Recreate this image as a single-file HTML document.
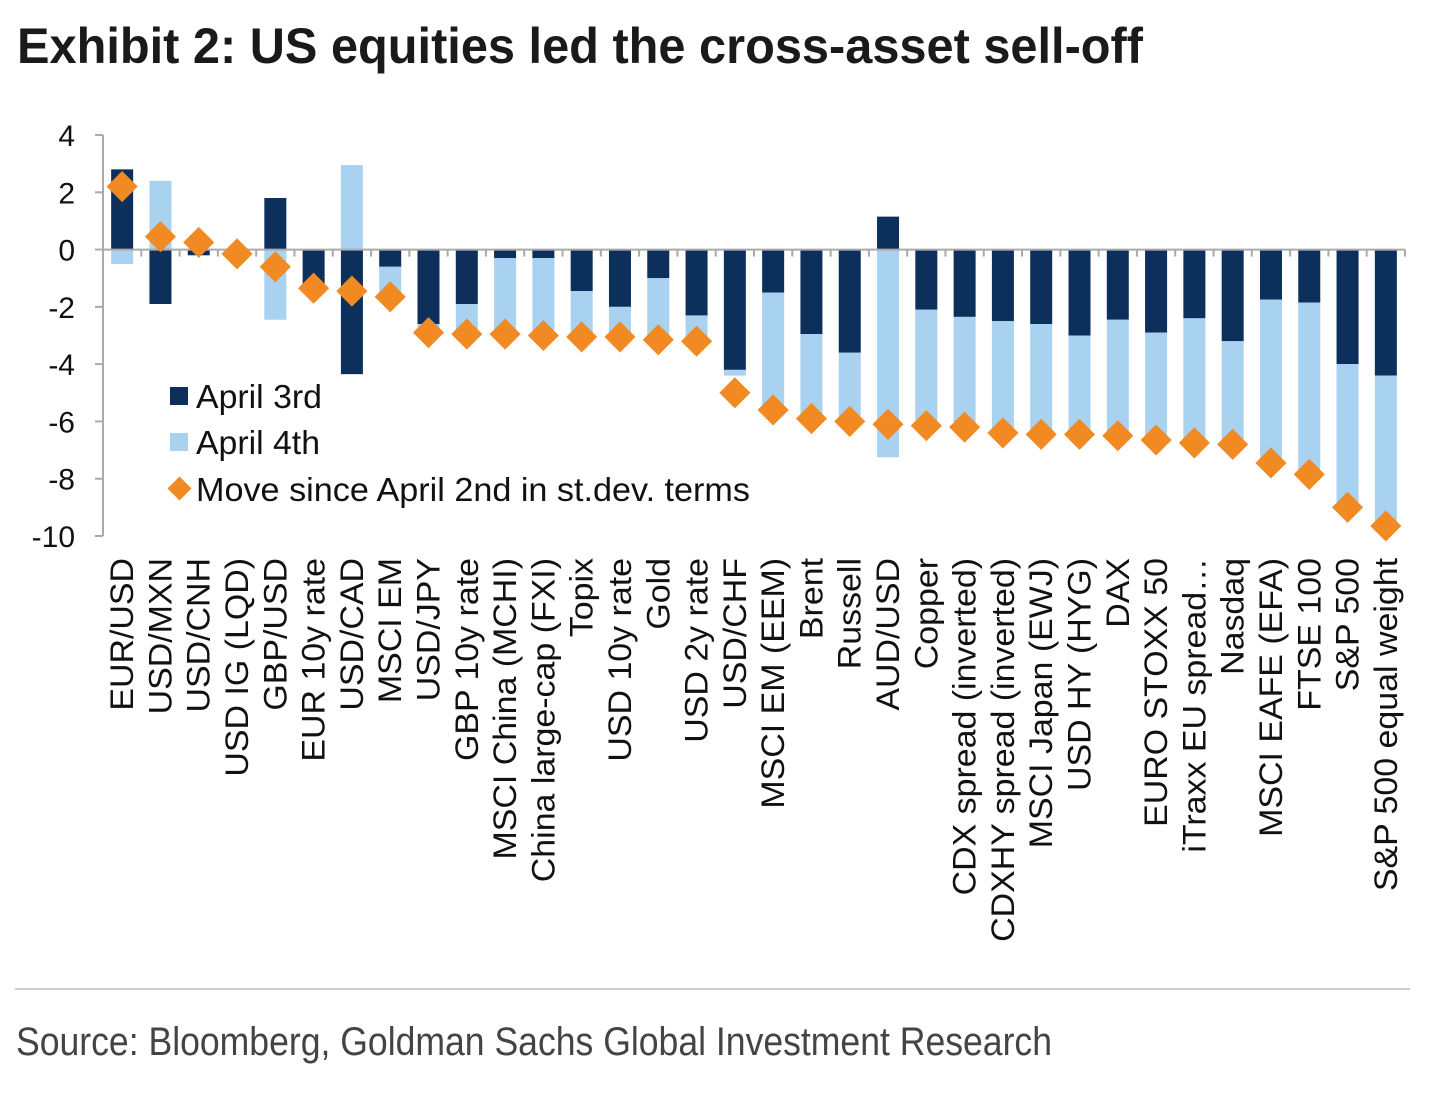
<!DOCTYPE html>
<html><head><meta charset="utf-8"><style>
html,body{margin:0;padding:0;background:#fff;width:1456px;height:1095px;overflow:hidden}
text{font-family:"Liberation Sans",sans-serif}
</style></head><body>
<svg id="chart" width="1456" height="1095" xmlns="http://www.w3.org/2000/svg">
<text x="17" y="63" font-size="50" font-weight="bold" fill="#1a1a1a" textLength="1126" lengthAdjust="spacingAndGlyphs">Exhibit 2: US equities led the cross-asset sell-off</text>
<g id="plot"></g>
<g>
<rect x="170" y="387" width="18" height="18" fill="#0c2f5c"/>
<text x="196" y="408" font-size="33" fill="#111" textLength="126" lengthAdjust="spacingAndGlyphs">April 3rd</text>
<rect x="170" y="433" width="18" height="18" fill="#a9d1f0"/>
<text x="196" y="454" font-size="33" fill="#111" textLength="124" lengthAdjust="spacingAndGlyphs">April 4th</text>
<rect x="171" y="480" width="17" height="17" fill="#f28a24" transform="rotate(45 179.5 488.5)"/>
<text x="196" y="501" font-size="33" fill="#111" textLength="554" lengthAdjust="spacingAndGlyphs">Move since April 2nd in st.dev. terms</text>
</g>
<line x1="15" y1="989" x2="1410" y2="989" stroke="#ccc" stroke-width="2"/>
<text x="16" y="1055" font-size="40" fill="#444" textLength="1036" lengthAdjust="spacingAndGlyphs">Source: Bloomberg, Goldman Sachs Global Investment Research</text>
</svg>
<script>
const categories=["EUR/USD","USD/MXN","USD/CNH","USD IG (LQD)","GBP/USD","EUR 10y rate","USD/CAD","MSCI EM","USD/JPY","GBP 10y rate","MSCI China (MCHI)","China large-cap (FXI)","Topix","USD 10y rate","Gold","USD 2y rate","USD/CHF","MSCI EM (EEM)","Brent","Russell","AUD/USD","Copper","CDX spread (inverted)","CDXHY spread (inverted)","MSCI Japan (EWJ)","USD HY (HYG)","DAX","EURO STOXX 50","iTraxx EU spread…","Nasdaq","MSCI EAFE (EFA)","FTSE 100","S&P 500","S&P 500 equal weight"];
const april3=[2.8,-1.9,-0.2,0,1.8,-1.3,-4.35,-0.6,-2.6,-1.9,-0.3,-0.3,-1.45,-2.0,-1.0,-2.3,-4.2,-1.5,-2.95,-3.6,1.15,-2.1,-2.35,-2.5,-2.6,-3.0,-2.45,-2.9,-2.4,-3.2,-1.75,-1.85,-4.0,-4.4];
const april4=[-0.5,2.4,0,0,-2.45,0,2.95,-1.0,-0.3,-1.0,-2.6,-2.6,-1.55,-1.0,-2.1,-0.9,-0.2,-4.0,-2.85,-2.2,-7.25,-3.9,-3.75,-3.8,-3.7,-3.4,-3.95,-3.6,-4.2,-3.5,-5.55,-5.85,-4.9,-5.1];
const moveSD=[2.2,0.45,0.25,-0.15,-0.6,-1.35,-1.45,-1.65,-2.9,-2.95,-2.95,-3.0,-3.05,-3.05,-3.15,-3.2,-5.0,-5.6,-5.9,-6.0,-6.1,-6.15,-6.2,-6.4,-6.45,-6.45,-6.5,-6.65,-6.75,-6.8,-7.45,-7.85,-9.0,-9.65];
const yTicks=[4,2,0,-2,-4,-6,-8,-10];
const NS="http://www.w3.org/2000/svg";
const g=document.getElementById('plot');
const X0=103,X1=1405,Ytop=135,Ybot=536,ymax=4,ymin=-10;
const step=(X1-X0)/categories.length;
function xs(i){return X0+step*(i+0.5);}
function ys(v){return Ytop+(ymax-v)/(ymax-ymin)*(Ybot-Ytop);}
function mk(t,a){const e=document.createElementNS(NS,t);for(const k in a)e.setAttribute(k,a[k]);g.appendChild(e);return e;}
let ax=mk('line',{x1:X0,y1:Ytop,x2:X0,y2:Ybot,stroke:'#aaa','stroke-width':2});


yTicks.forEach(v=>{
 let t=mk('line',{x1:X0-8,y1:ys(v),x2:X0,y2:ys(v),stroke:'#aaa','stroke-width':2});
 
 
 let l=mk('text',{x:X0-28,y:ys(v)+11,'font-size':30,'text-anchor':'end',fill:'#111'});
 l.textContent=v;
 
 
});
const bw=22;
categories.forEach((c,i)=>{
 let pos=0,neg=0;
 [[april3[i],'#0c2f5c','bar-april-3rd'],[april4[i],'#a9d1f0','bar-april-4th']].forEach(([v,col,nm])=>{
  if(v===0)return;
  let a,b;
  if(v>0){a=pos;b=pos+v;pos=b;}else{a=neg;b=neg+v;neg=b;}
  let r=mk('rect',{x:xs(i)-bw/2,y:Math.min(ys(a),ys(b)),width:bw,height:Math.abs(ys(a)-ys(b)),fill:col});
  
  
 });
});
let zl=mk('line',{x1:X0,y1:ys(0),x2:X1,y2:ys(0),stroke:'#aaa','stroke-width':2});


for(let i=1;i<=categories.length;i++){
 let t=mk('line',{x1:X0+step*i,y1:ys(0),x2:X0+step*i,y2:ys(0)+7,stroke:'#aaa','stroke-width':2});
 
 
}
categories.forEach((c,i)=>{
 let cx=xs(i),cy=ys(moveSD[i]);
 let d=mk('rect',{x:cx-11,y:cy-11,width:22,height:22,fill:'#f28a24',transform:`rotate(45 ${cx} ${cy})`});
 
 
 let l=mk('text',{x:0,y:0,'font-size':32,'text-anchor':'end',fill:'#111',transform:`translate(${cx+11} 558) rotate(-90) scale(1.06 1)`});
 l.textContent=c;
 
 
});
</script>
</body></html>
